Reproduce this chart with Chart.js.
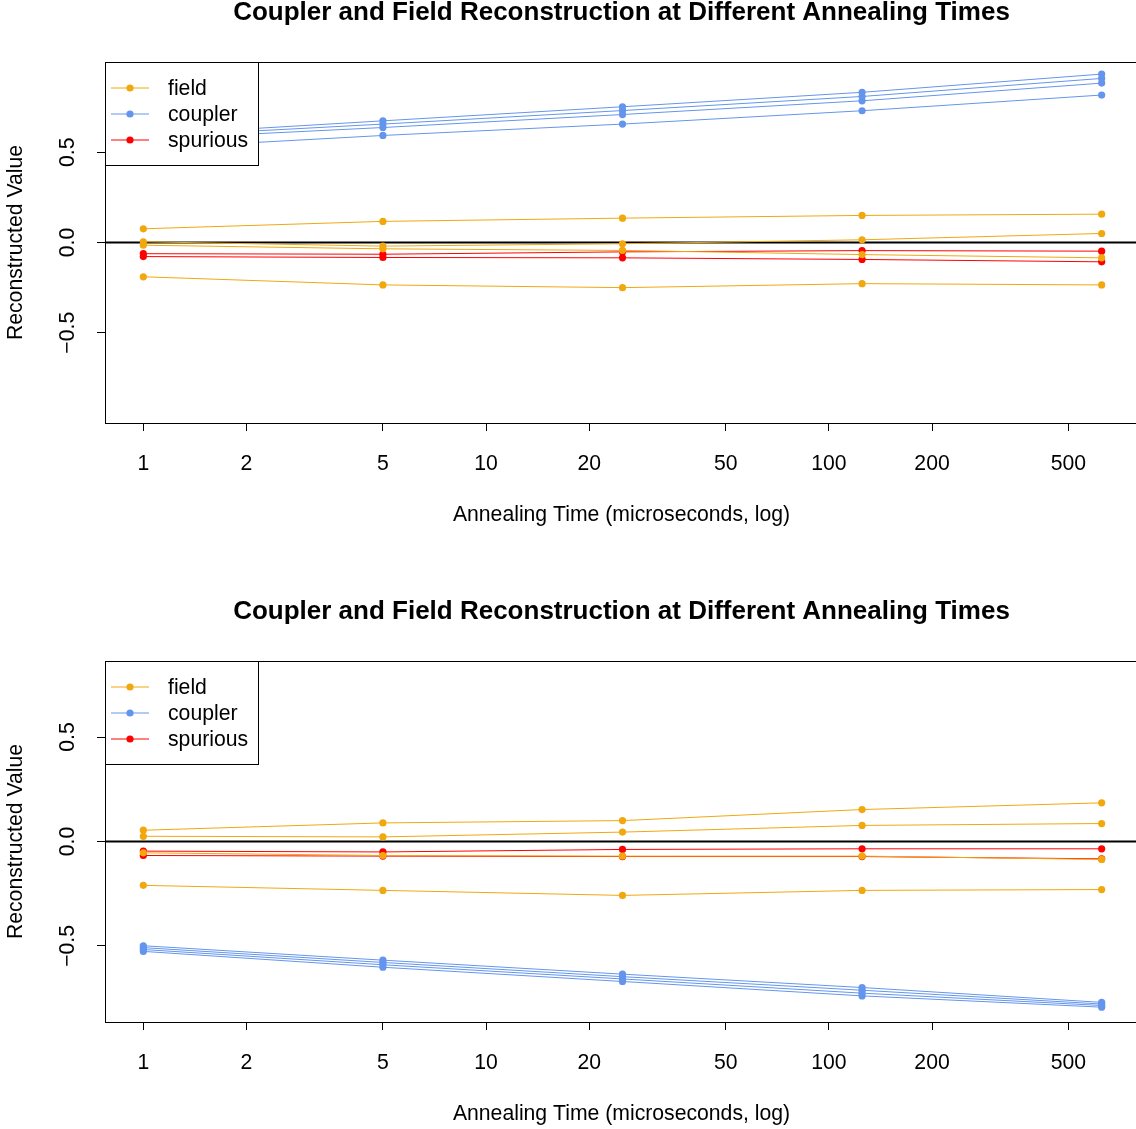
<!DOCTYPE html>
<html>
<head>
<meta charset="utf-8">
<script src="https://cdn.jsdelivr.net/npm/chart.js@4.4.0/dist/chart.umd.min.js"></script>
<style>
    body { margin: 0; background: #fff; overflow: hidden; }
    #wrap { position: relative; width: 1136px; height: 1129px; overflow: hidden; background: #fff; }
    canvas { position: absolute; left: 0; }
</style>
</head>
<body>
<div id="wrap">
    <canvas id="panelTop" width="1144" height="599" style="top:0"></canvas>
    <canvas id="panelBottom" width="1144" height="530" style="top:599px"></canvas>
</div>
<script>
// data
var annealTimes = [1, 5, 25, 125, 625];
var xTickValues = [1, 2, 5, 10, 20, 50, 100, 200, 500];
var yTickValues = [-0.5, 0, 0.5];
var seriesNames = ["field", "coupler", "spurious"];
var seriesColors = ["#F0A80E", "#6495ED", "#FF0000"];

var chartTitle = "Coupler and Field Reconstruction at Different Annealing Times";
var xTitle = "Annealing Time (microseconds, log)";
var yTitle = "Reconstructed Value";
var xRange = [0.773, 808.6];

// top panel
var fieldTop = [
    [0.076, 0.117, 0.135, 0.150, 0.157],
    [0.004, -0.020, -0.007, 0.015, 0.050],
    [-0.015, -0.035, -0.044, -0.067, -0.085],
    [-0.190, -0.235, -0.250, -0.228, -0.235]
];
var couplerTop = [
    [0.595, 0.674, 0.752, 0.832, 0.933],
    [0.585, 0.656, 0.731, 0.809, 0.909],
    [0.572, 0.637, 0.709, 0.785, 0.883],
    [0.520, 0.593, 0.656, 0.730, 0.817]
];
var spuriousTop = [
    [-0.062, -0.065, -0.052, -0.045, -0.048],
    [-0.078, -0.083, -0.085, -0.094, -0.107]
];
var yRangeTop = [-1.0, 1.0];

// bottom panel
var fieldBottom = [
    [0.054, 0.089, 0.100, 0.153, 0.185],
    [0.025, 0.022, 0.045, 0.077, 0.086],
    [-0.054, -0.067, -0.070, -0.070, -0.086],
    [-0.210, -0.234, -0.258, -0.234, -0.230]
];
var couplerBottom = [
    [-0.499, -0.568, -0.635, -0.699, -0.770],
    [-0.508, -0.579, -0.647, -0.712, -0.778],
    [-0.517, -0.590, -0.658, -0.726, -0.785],
    [-0.526, -0.602, -0.670, -0.739, -0.793]
];
var spuriousBottom = [
    [-0.046, -0.050, -0.038, -0.035, -0.035],
    [-0.067, -0.070, -0.072, -0.072, -0.083]
];
var yRangeBottom = [-0.864, 0.864];

var FONT = "'Liberation Sans', Arial, Helvetica, sans-serif";
var AXIS_PX = 21.2;

function fmtY(v) {
    var s = v.toFixed(1);
    return v < 0 ? "\u2212" + s.slice(1) : s;
}

function toDatasets(rows, color) {
    return rows.map(function(vals) {
        return {
            data: vals.map(function(v, i) { return { x: annealTimes[i], y: v }; }),
            borderColor: color,
            backgroundColor: color,
            pointBackgroundColor: color,
            borderWidth: 1,
            pointRadius: 3.6,
            pointBorderWidth: 0,
            tension: 0
        };
    });
}

// box, zero line, titles, legend, rotated y labels (R base style)
var rFrame = {
    id: "rFrame",
    beforeDatasetsDraw: function(chart) {
        var ctx = chart.ctx, a = chart.chartArea;
        var y0 = chart.scales.y.getPixelForValue(0);
        ctx.save();
        ctx.strokeStyle = "#000";
        ctx.lineWidth = 2;
        ctx.beginPath();
        ctx.moveTo(a.left, y0);
        ctx.lineTo(a.right, y0);
        ctx.stroke();
        ctx.restore();
    },
    afterDraw: function(chart) {
        var ctx = chart.ctx, a = chart.chartArea, ys = chart.scales.y;
        var midX = 621.5;
        ctx.save();
        ctx.strokeStyle = "#000";
        ctx.lineWidth = 1;
        ctx.strokeRect(a.left + 0.5, a.top + 0.5, a.right - a.left, a.bottom - a.top);

        ctx.fillStyle = "#000";
        ctx.textAlign = "center";
        ctx.textBaseline = "middle";

        ctx.font = "bold 26px " + FONT;
        ctx.fillText(chartTitle, midX, 13);

        ctx.font = AXIS_PX + "px " + FONT;
        ctx.fillText(xTitle, midX, 515);

        ctx.save();
        ctx.translate(16, (a.top + a.bottom) / 2);
        ctx.rotate(-Math.PI / 2);
        ctx.fillText(yTitle, 0, 0);
        ctx.restore();

        ys.ticks.forEach(function(t) {
            var py = ys.getPixelForValue(t.value);
            ctx.save();
            ctx.translate(a.left - 37, py);
            ctx.rotate(-Math.PI / 2);
            ctx.fillText(fmtY(t.value), 0, 0);
            ctx.restore();
        });

        // legend
        var lx = a.left, ly = a.top, lw = 153, lh = 103;
        ctx.fillStyle = "#fff";
        ctx.fillRect(lx, ly, lw, lh);
        ctx.strokeRect(lx + 0.5, ly + 0.5, lw, lh);
        ctx.textAlign = "left";
        seriesNames.forEach(function(name, i) {
            var ry = ly + 26 + i * 26;
            ctx.strokeStyle = seriesColors[i];
            ctx.beginPath();
            ctx.moveTo(lx + 6, ry);
            ctx.lineTo(lx + 44, ry);
            ctx.stroke();
            ctx.fillStyle = seriesColors[i];
            ctx.beginPath();
            ctx.arc(lx + 25, ry, 3.6, 0, Math.PI * 2);
            ctx.fill();
            ctx.fillStyle = "#000";
            ctx.fillText(name, lx + 63, ry + 1);
        });
        ctx.restore();
    }
};

function makePanel(id, field, coupler, spurious, yRange) {
    var canvas = document.getElementById(id);
    var xAxisHeight = canvas.height - 423;
    var datasets = []
        .concat(toDatasets(field, seriesColors[0]))
        .concat(toDatasets(spurious, seriesColors[2]))
        .concat(toDatasets(coupler, seriesColors[1]));

    return new Chart(canvas, {
        type: "line",
        data: { datasets: datasets },
        plugins: [rFrame],
        options: {
            responsive: false,
            animation: false,
            devicePixelRatio: 1,
            layout: { padding: { left: 0, top: 62, right: 2, bottom: 0 } },
            plugins: {
                legend: { display: false },
                tooltip: { enabled: false },
                title: { display: false }
            },
            scales: {
                x: {
                    type: "logarithmic",
                    min: xRange[0],
                    max: xRange[1],
                    border: { display: false },
                    grid: { drawOnChartArea: false, drawTicks: true, tickLength: 8, color: "#000", lineWidth: 1 },
                    ticks: {
                        color: "#000",
                        font: { family: FONT, size: AXIS_PX },
                        padding: 20,
                        maxRotation: 0,
                        autoSkip: false,
                        callback: function(v) { return String(v); }
                    },
                    afterBuildTicks: function(scale) {
                        scale.ticks = xTickValues.map(function(v) { return { value: v }; });
                    },
                    afterFit: function(scale) {
                        scale.height = xAxisHeight;
                        scale.paddingLeft = 0;
                        scale.paddingRight = 0;
                    }
                },
                y: {
                    type: "linear",
                    min: yRange[0],
                    max: yRange[1],
                    border: { display: false },
                    grid: { drawOnChartArea: false, drawTicks: true, tickLength: 8, color: "#000", lineWidth: 1 },
                    ticks: { display: false },
                    afterBuildTicks: function(scale) {
                        scale.ticks = yTickValues.map(function(v) { return { value: v }; });
                    },
                    afterFit: function(scale) {
                        scale.width = 105;
                        scale.paddingTop = 0;
                        scale.paddingBottom = 0;
                    }
                }
            }
        }
    });
}

makePanel("panelTop", fieldTop, couplerTop, spuriousTop, yRangeTop);
makePanel("panelBottom", fieldBottom, couplerBottom, spuriousBottom, yRangeBottom);
</script>
</body>
</html>
